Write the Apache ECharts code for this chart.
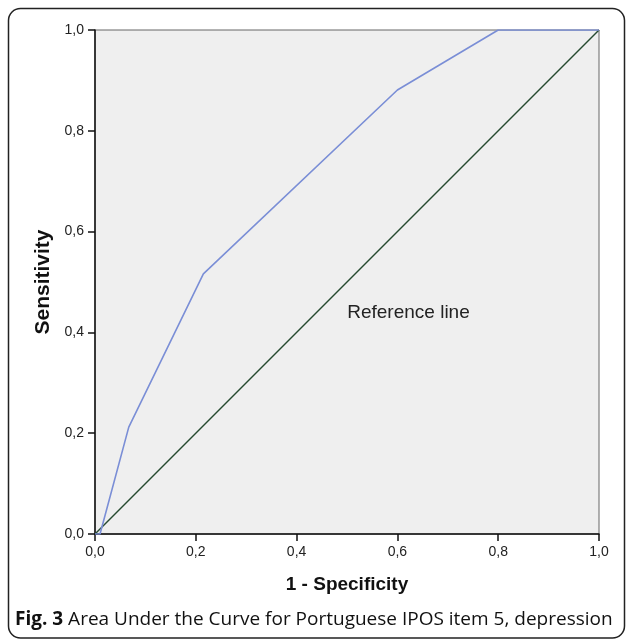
<!DOCTYPE html>
<html><head><meta charset="utf-8">
<script src="https://cdn.jsdelivr.net/npm/echarts@6/dist/echarts.min.js"></script>
<style>html,body{margin:0;padding:0;background:#fff}#c{width:627px;height:639px}</style>
</head><body><div id="c"></div>
<script>
const rocX = [0, 0.01, 0.067, 0.215, 0.6, 0.8, 1.0];
const rocY = [0, 0, 0.212, 0.516, 0.881, 1.0, 1.0];
const refX = [0, 1];
const refY = [0, 1];
const tickVals = [0, 0.2, 0.4, 0.6, 0.8, 1.0];
const xTitle = '1 - Specificity';
const yTitle = 'Sensitivity';
const refLabel = 'Reference line';
const refLabelAt = [0.622, 0.4385];
const captionBold = 'Fig. 3';
const captionText = ' Area Under the Curve for Portuguese IPOS item 5, depression';

const fmt = v => v.toFixed(1).replace('.', ',');
const chart = echarts.init(document.getElementById('c'), null, {renderer: 'canvas'});
const axisCommon = {
  type: 'value', min: 0, max: 1, interval: 0.2,
  axisLine: {show: true, lineStyle: {color: '#111', width: 1.5}},
  axisTick: {show: true, length: 7, lineStyle: {color: '#111', width: 1.5}},
  axisLabel: {formatter: fmt, color: '#222', fontFamily: 'Liberation Sans, Arial', fontSize: 14, margin: 11},
  splitLine: {show: false},
  nameLocation: 'middle',
  nameTextStyle: {fontFamily: 'Liberation Sans, Arial', fontWeight: 'bold', color: '#111'}
};
chart.setOption({
  animation: false,
  grid: {left: 95, right: 28, top: 30, bottom: 105, show: true, backgroundColor: '#efefef', borderColor: '#666', borderWidth: 1},
  xAxis: Object.assign({}, axisCommon, {name: xTitle, nameGap: 41,
    nameTextStyle: Object.assign({}, axisCommon.nameTextStyle, {fontSize: 19})}),
  yAxis: Object.assign({}, axisCommon, {name: yTitle, nameGap: 38,
    nameTextStyle: Object.assign({}, axisCommon.nameTextStyle, {fontSize: 21})}),
  graphic: [
    {type: 'rect', shape: {x: 8.5, y: 8.5, width: 616, height: 629.5, r: 12}, style: {fill: 'none', stroke: '#222', lineWidth: 1.5}, silent: true},
    {type: 'text', left: 15, top: 610, style: {
      text: '{b|' + captionBold + '}{n|' + captionText + '}',
      rich: {
        b: {fontFamily: 'Open Sans', fontWeight: 'bold', fontSize: 19, fill: '#111'},
        n: {fontFamily: 'Open Sans', fontSize: 19, fill: '#111'}
      }
    }}
  ],
  series: [
    {type: 'line', data: refX.map((x, i) => [x, refY[i]]), symbol: 'none',
     lineStyle: {color: '#264a30', width: 1.5},
     markPoint: {symbol: 'circle', symbolSize: 0, data: [{coord: refLabelAt}],
       label: {show: true, position: 'inside', formatter: refLabel, color: '#222', fontFamily: 'Liberation Sans, Arial', fontSize: 19}}},
    {type: 'line', data: rocX.map((x, i) => [x, rocY[i]]), symbol: 'none',
     lineStyle: {color: '#7a8ed6', width: 1.6}}
  ]
});
</script></body></html>
